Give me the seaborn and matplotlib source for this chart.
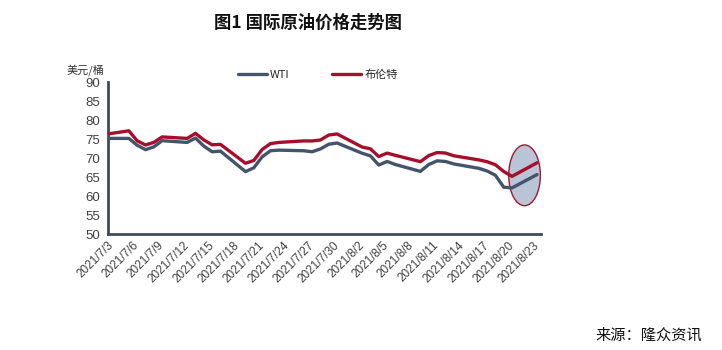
import numpy as np
import pandas as pd
import matplotlib
matplotlib.use("Agg")
import matplotlib.pyplot as plt
import matplotlib.dates as mdates
from matplotlib.patches import Ellipse
import seaborn as sns

# ---- data ----
dates = ['2021-07-02', '2021-07-05', '2021-07-06', '2021-07-07', '2021-07-08', '2021-07-09',
         '2021-07-12', '2021-07-13', '2021-07-14', '2021-07-15', '2021-07-16',
         '2021-07-19', '2021-07-20', '2021-07-21', '2021-07-22', '2021-07-23',
         '2021-07-26', '2021-07-27', '2021-07-28', '2021-07-29', '2021-07-30',
         '2021-08-02', '2021-08-03', '2021-08-04', '2021-08-05', '2021-08-06',
         '2021-08-09', '2021-08-10', '2021-08-11', '2021-08-12', '2021-08-13',
         '2021-08-16', '2021-08-17', '2021-08-18', '2021-08-19', '2021-08-20',
         '2021-08-23']
wti = [75.16, 75.16, 73.37, 72.20, 72.94, 74.56,
       74.10, 75.25, 73.13, 71.65, 71.81,
       66.42, 67.42, 70.30, 71.91, 72.07,
       71.91, 71.65, 72.39, 73.62, 73.95,
       71.26, 70.56, 68.15, 69.09, 68.28,
       66.48, 68.29, 69.25, 69.09, 68.44,
       67.29, 66.59, 65.46, 62.32, 62.14,
       65.64]
brent = [76.17, 77.16, 74.53, 73.43, 74.12, 75.55,
         75.16, 76.49, 74.76, 73.47, 73.59,
         68.62, 69.35, 72.23, 73.79, 74.10,
         74.50, 74.48, 74.74, 76.05, 76.33,
         72.89, 72.41, 70.38, 71.29, 70.70,
         69.04, 70.63, 71.44, 71.31, 70.59,
         69.51, 69.03, 68.23, 66.45, 65.18,
         68.75]
series_names = ['WTI', '布伦特']
tick_dates = pd.date_range('2021-07-03', '2021-08-23', freq='3D')
yticks = [50, 55, 60, 65, 70, 75, 80, 85, 90]

# ---- style ----
sns.set_theme(style='white')
plt.rcParams['font.family'] = ['Liberation Sans', 'Noto Sans CJK SC', 'DejaVu Sans']
cjk = ['Noto Sans CJK SC', 'DejaVu Sans']
axis_col = '#3f4b57'
colors = {'WTI': '#44546a', '布伦特': '#a50f2d'}

# Excel date axis places points in the middle of each day slot
x = pd.to_datetime(dates) + pd.Timedelta(hours=12)
df = pd.concat([
    pd.DataFrame({'date': x, 'price': wti, 'series': series_names[0]}),
    pd.DataFrame({'date': x, 'price': brent, 'series': series_names[1]}),
])

fig = plt.figure(figsize=(7.22, 3.5), dpi=100)
ax = fig.add_axes([0.1496, 0.3314, 0.600, 0.4343])

sns.lineplot(data=df, x='date', y='price', hue='series', hue_order=series_names,
             palette=colors, linewidth=2.4, estimator=None, sort=False, ax=ax, zorder=3)

# highlight ellipse around last points
xn = mdates.date2num(x)
cx = (xn[-1] + xn[-2]) / 2
cy = (min(wti[-2:]) + max(brent[-2:])) / 2
ell = Ellipse((cx, cy), width=3.8, height=16, facecolor='#b9c4d7',
              edgecolor='#a0182c', linewidth=1.0, zorder=2)
ax.add_patch(ell)

ax.set_xlim(pd.Timestamp('2021-07-03'), pd.Timestamp('2021-08-24'))
ax.set_ylim(50, 90)
ax.set_yticks(yticks)
ax.set_xticks(tick_dates)
ax.set_xticklabels([f"{d.year}/{d.month}/{d.day}" for d in tick_dates],
                   rotation=45, ha='right', va='top', rotation_mode='anchor',
                   fontsize=8.5, color='#404040')
ax.tick_params(axis='y', labelsize=9.5, labelcolor='#404040')
ax.tick_params(axis='both', direction='in', length=3, width=1.5, color=axis_col)
ax.tick_params(axis='y', pad=6)
ax.tick_params(axis='x', pad=4)
ax.set_xlabel('')
ax.set_ylabel('')
for s in ['top', 'right']:
    ax.spines[s].set_visible(False)
for s in ['left', 'bottom']:
    ax.spines[s].set_color(axis_col)
    ax.spines[s].set_linewidth(2)

handles, labels = ax.get_legend_handles_labels()
ax.legend(handles, labels, ncol=2, frameon=False, loc='center',
          bbox_to_anchor=(0.44, 0.786), bbox_transform=fig.transFigure,
          prop={'family': cjk, 'size': 8}, handlelength=2.6, columnspacing=3.8,
          handletextpad=0.3)

fig.text(0.427, 0.934, '图1 国际原油价格走势图', ha='center', va='center',
         fontsize=12.5, fontweight='bold', family=cjk, color='#111111')
fig.text(67 / 722, 1 - 70 / 350, '美元/桶', ha='left', va='center',
         fontsize=8, family=cjk, color='#333333')
fig.text(702 / 722, 1 - 335 / 350, '来源：隆众资讯', ha='right', va='center',
         fontsize=11, family=cjk, color='#111111')

fig.savefig('out.png', dpi=100)
